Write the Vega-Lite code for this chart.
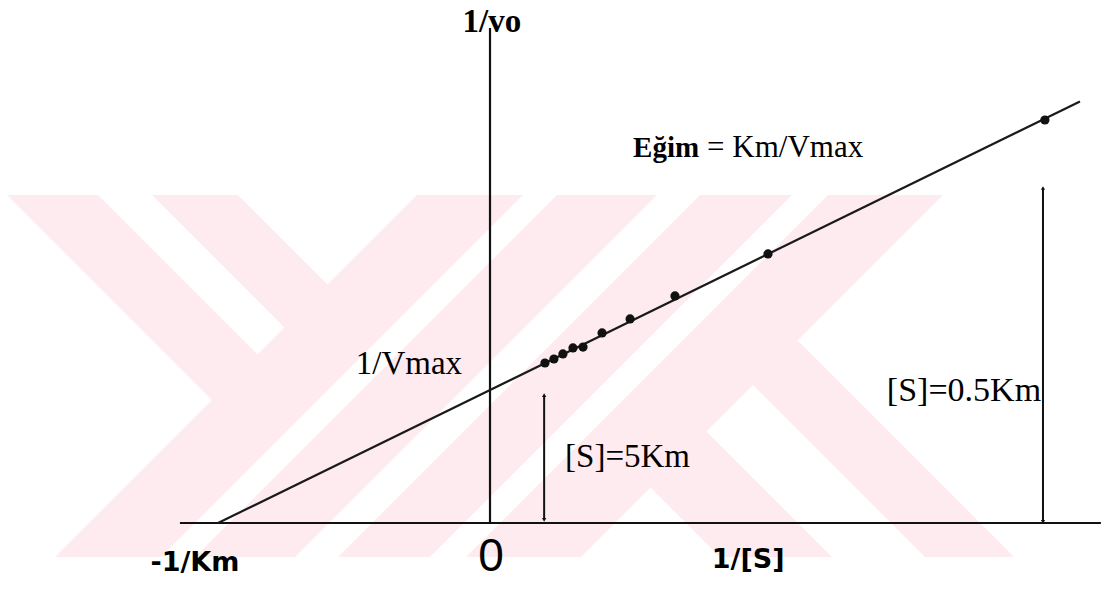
{
  "$schema": "https://vega.github.io/schema/vega-lite/v6.json",
  "width": 1105,
  "height": 589,
  "padding": 0,
  "autosize": {"type": "none"},
  "background": "white",
  "config": {"view": {"stroke": null}},
  "datasets": {
    "watermark": [
      {"w": "D2", "y": 2.4662, "x": -0.2684, "x2": 0.1213},
      {"w": "D2", "y": -0.2556, "x": -1.5993, "x2": -1.2096},
      {"w": "R1", "y": 2.4662, "x": 0.2463, "x2": 0.6140},
      {"w": "R1", "y": -0.2556, "x": -1.0846, "x2": -0.7169},
      {"w": "R2", "y": 2.4662, "x": 0.7721, "x2": 1.1103},
      {"w": "R2", "y": -0.2556, "x": -0.5588, "x2": -0.2206},
      {"w": "R3", "y": 2.4662, "x": 1.2426, "x2": 1.6654},
      {"w": "R3", "y": -0.2556, "x": -0.0882, "x2": 0.3346},
      {"w": "B1", "y": 2.4662, "x": -1.7757, "x2": -1.4412},
      {"w": "B1", "y": 1.0677, "x": -1.0919, "x2": -0.7574},
      {"w": "B1", "y": 0.7256, "x": -0.9246, "x2": -0.9246},
      {"w": "D1", "y": 2.4662, "x": -1.2426, "x2": -0.9265},
      {"w": "D1", "y": 1.5940, "x": -0.8162, "x2": -0.5000},
      {"w": "D1", "y": 1.2707, "x": -0.6581, "x2": -0.6581},
      {"w": "Q0", "y": 0.9060, "x": 0.6893, "x2": 0.6893},
      {"w": "Q0", "y": 0.4850, "x": 0.4835, "x2": 0.8952},
      {"w": "Q0", "y": -0.2556, "x": 0.8456, "x2": 1.2574},
      {"w": "Q", "y": 1.5902, "x": 1.0239, "x2": 1.0239},
      {"w": "Q", "y": 1.2556, "x": 0.8603, "x2": 1.1875},
      {"w": "Q", "y": -0.2556, "x": 1.5993, "x2": 1.9265}
    ],
    "axes": [
      {"id": "x", "x": -1.14, "y": 0, "x2": 2.246, "y2": 0},
      {"id": "y", "x": 0, "y": 0, "x2": 0, "y2": 3.722}
    ],
    "fit": [
      {"x": -1.0, "y": 0.0},
      {"x": 2.169, "y": 3.169}
    ],
    "pts": [
      {"x": 0.202, "y": 1.203},
      {"x": 0.235, "y": 1.233},
      {"x": 0.268, "y": 1.271},
      {"x": 0.305, "y": 1.316},
      {"x": 0.342, "y": 1.323},
      {"x": 0.412, "y": 1.429},
      {"x": 0.515, "y": 1.534},
      {"x": 0.680, "y": 1.707},
      {"x": 1.022, "y": 2.023},
      {"x": 2.040, "y": 3.030}
    ],
    "arrows": [
      {"id": "5Km", "x": 0.199, "y": 0.023, "y2": 0.962},
      {"id": "0.5Km", "x": 2.033, "y": 0.008, "y2": 2.519}
    ]
  },
  "layer": [
    {
      "data": {"name": "watermark"},
      "mark": {"type": "area", "orient": "horizontal", "fill": "#fdebef", "fillOpacity": 1, "stroke": null},
      "encoding": {
        "y": {"field": "y", "type": "quantitative", "scale": {"domain": [-0.4962, 3.9323], "nice": false, "zero": false}, "axis": null},
        "x": {"field": "x", "type": "quantitative", "scale": {"domain": [-1.8015, 2.261], "nice": false, "zero": false}, "axis": null, "stack": null},
        "x2": {"field": "x2"},
        "detail": {"field": "w", "type": "nominal"}
      }
    },
    {
      "data": {"name": "axes"},
      "mark": {"type": "rule", "color": "#111", "strokeWidth": 2.2},
      "encoding": {"x": {"field": "x", "type": "quantitative"}, "y": {"field": "y", "type": "quantitative"}, "x2": {"field": "x2"}, "y2": {"field": "y2"}}
    },
    {
      "data": {"name": "fit"},
      "mark": {"type": "line", "color": "#1a1a1a", "strokeWidth": 2.2},
      "encoding": {"x": {"field": "x", "type": "quantitative"}, "y": {"field": "y", "type": "quantitative"}}
    },
    {
      "data": {"name": "pts"},
      "mark": {"type": "point", "filled": true, "color": "#111", "size": 85, "opacity": 1},
      "encoding": {"x": {"field": "x", "type": "quantitative"}, "y": {"field": "y", "type": "quantitative"}}
    },
    {
      "data": {"name": "arrows"},
      "mark": {"type": "rule", "color": "#111", "strokeWidth": 2},
      "encoding": {"x": {"field": "x", "type": "quantitative"}, "y": {"field": "y", "type": "quantitative"}, "y2": {"field": "y2"}}
    },
    {
      "data": {"name": "arrows"},
      "mark": {"type": "point", "shape": "triangle-down", "filled": true, "color": "#111", "size": 18, "opacity": 1},
      "encoding": {"x": {"field": "x", "type": "quantitative"}, "y": {"field": "y", "type": "quantitative"}}
    },
    {
      "data": {"name": "arrows"},
      "mark": {"type": "point", "shape": "triangle-up", "filled": true, "color": "#111", "size": 18, "opacity": 1},
      "encoding": {"x": {"field": "x", "type": "quantitative"}, "y": {"field": "y2", "type": "quantitative"}}
    },
    {
      "data": {"values": [{"t": "1/vo", "x": 0.007, "y": 3.767}]},
      "mark": {"type": "text", "font": "Liberation Serif", "fontWeight": "bold", "fontSize": 33, "align": "center", "baseline": "middle", "color": "#000"},
      "encoding": {"x": {"field": "x", "type": "quantitative"}, "y": {"field": "y", "type": "quantitative"}, "text": {"field": "t"}}
    },
    {
      "data": {"values": [{"t": "Eğim", "x": 0.526, "y": 2.82}]},
      "mark": {"type": "text", "font": "Liberation Serif", "fontWeight": "bold", "fontSize": 29, "align": "left", "baseline": "middle", "color": "#000"},
      "encoding": {"x": {"field": "x", "type": "quantitative"}, "y": {"field": "y", "type": "quantitative"}, "text": {"field": "t"}}
    },
    {
      "data": {"values": [{"t": "= Km/Vmax", "x": 0.798, "y": 2.82}]},
      "mark": {"type": "text", "font": "Liberation Serif", "fontSize": 31, "align": "left", "baseline": "middle", "color": "#000"},
      "encoding": {"x": {"field": "x", "type": "quantitative"}, "y": {"field": "y", "type": "quantitative"}, "text": {"field": "t"}}
    },
    {
      "data": {"values": [{"t": "1/Vmax", "x": -0.298, "y": 1.195}]},
      "mark": {"type": "text", "font": "Liberation Serif", "fontSize": 33, "align": "center", "baseline": "middle", "color": "#000"},
      "encoding": {"x": {"field": "x", "type": "quantitative"}, "y": {"field": "y", "type": "quantitative"}, "text": {"field": "t"}}
    },
    {
      "data": {"values": [{"t": "[S]=5Km", "x": 0.276, "y": 0.496}]},
      "mark": {"type": "text", "font": "Liberation Serif", "fontSize": 33, "align": "left", "baseline": "middle", "color": "#000"},
      "encoding": {"x": {"field": "x", "type": "quantitative"}, "y": {"field": "y", "type": "quantitative"}, "text": {"field": "t"}}
    },
    {
      "data": {"values": [{"t": "[S]=0.5Km", "x": 2.026, "y": 0.992}]},
      "mark": {"type": "text", "font": "Liberation Serif", "fontSize": 34, "align": "right", "baseline": "middle", "color": "#000"},
      "encoding": {"x": {"field": "x", "type": "quantitative"}, "y": {"field": "y", "type": "quantitative"}, "text": {"field": "t"}}
    },
    {
      "data": {"values": [
        {"t": "-1/Km", "x": -1.085, "y": -0.301},
        {"t": "1/[S]", "x": 0.949, "y": -0.278}
      ]},
      "mark": {"type": "text", "font": "DejaVu Sans", "fontWeight": "bold", "fontSize": 27, "align": "center", "baseline": "middle", "color": "#000"},
      "encoding": {"x": {"field": "x", "type": "quantitative"}, "y": {"field": "y", "type": "quantitative"}, "text": {"field": "t"}}
    },
    {
      "data": {"values": [{"t": "0", "x": 0.004, "y": -0.256}]},
      "mark": {"type": "text", "font": "Liberation Sans", "fontSize": 46, "align": "center", "baseline": "middle", "color": "#000"},
      "encoding": {"x": {"field": "x", "type": "quantitative"}, "y": {"field": "y", "type": "quantitative"}, "text": {"field": "t"}}
    }
  ]
}
